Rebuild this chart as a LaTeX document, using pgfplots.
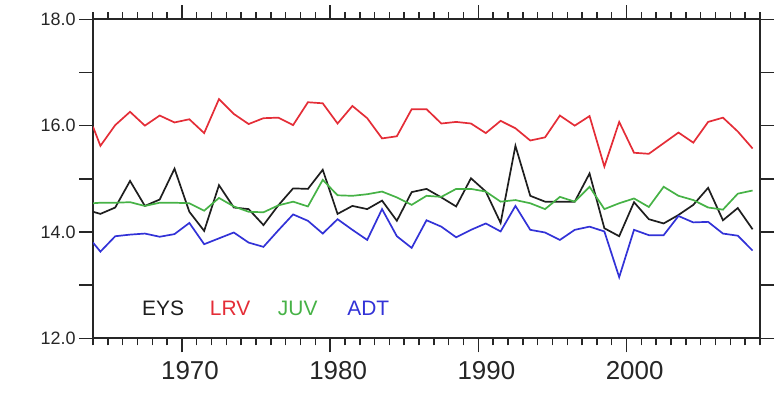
\documentclass[border=0pt]{standalone}
\usepackage{fontspec}
\setmainfont{Liberation Sans}
\usepackage{pgfplots}
\usepackage{pgfplotstable}
\pgfplotsset{compat=1.18}

\definecolor{eys}{RGB}{30,30,30}
\definecolor{lrv}{RGB}{228,45,55}
\definecolor{juv}{RGB}{70,178,70}
\definecolor{adt}{RGB}{50,50,215}

% annual means, plotted at mid-year
\pgfplotstableread{
year   EYS    LRV    JUV    ADT
1964.0 14.38  15.98  14.54  13.80
1964.5 14.34  15.62  14.55  13.63
1965.5 14.46  16.01  14.55  13.92
1966.5 14.96  16.26  14.56  13.95
1967.5 14.49  16.00  14.49  13.97
1968.5 14.61  16.19  14.55  13.91
1969.5 15.19  16.06  14.55  13.96
1970.5 14.38  16.12  14.54  14.17
1971.5 14.02  15.86  14.40  13.77
1972.5 14.88  16.50  14.64  13.88
1973.5 14.46  16.22  14.48  13.99
1974.5 14.43  16.03  14.38  13.80
1975.5 14.13  16.14  14.37  13.72
1976.5 14.50  16.15  14.50  14.03
1977.5 14.82  16.01  14.57  14.33
1978.5 14.81  16.44  14.48  14.21
1979.5 15.17  16.42  14.98  13.97
1980.5 14.34  16.04  14.69  14.24
1981.5 14.49  16.37  14.68  14.04
1982.5 14.43  16.14  14.71  13.85
1983.5 14.59  15.76  14.76  14.43
1984.5 14.21  15.80  14.65  13.92
1985.5 14.75  16.31  14.51  13.70
1986.5 14.81  16.31  14.68  14.22
1987.5 14.65  16.04  14.66  14.10
1988.5 14.48  16.07  14.81  13.90
1989.5 15.01  16.04  14.81  14.04
1990.5 14.76  15.86  14.76  14.16
1991.5 14.17  16.09  14.57  14.01
1992.5 15.62  15.95  14.60  14.49
1993.5 14.68  15.72  14.54  14.04
1994.5 14.57  15.78  14.43  13.99
1995.5 14.57  16.19  14.66  13.85
1996.5 14.57  16.00  14.57  14.04
1997.5 15.10  16.18  14.85  14.10
1998.5 14.07  15.23  14.43  14.01
1999.5 13.92  16.07  14.54  13.15
2000.5 14.56  15.49  14.63  14.04
2001.5 14.24  15.47  14.47  13.94
2002.5 14.16  15.67  14.85  13.94
2003.5 14.32  15.87  14.68  14.30
2004.5 14.51  15.68  14.60  14.18
2005.5 14.83  16.07  14.46  14.19
2006.5 14.22  16.15  14.42  13.97
2007.5 14.45  15.89  14.72  13.93
2008.5 14.05  15.57  14.78  13.65
}\series

\begin{document}
\begin{tikzpicture}
\useasboundingbox (0,0) rectangle (781bp,393bp);
\begin{axis}[
  at={(93bp,54.7bp)}, anchor=south west,
  width=667bp, height=319bp, scale only axis,
  xmin=1964, xmax=2009, ymin=12, ymax=18,
  xtick={1970,1980,1990,2000},
  xticklabels={1970,1980,1990,2000},
  minor xtick={1964,...,2009},
  ytick={12,13,...,18},
  yticklabels={12.0,,14.0,,16.0,,18.0},
  tick align=outside,
  major tick length=14bp, minor tick length=7bp,
  axis line style={line width=2bp, black!85},
  tick style={line width=1.5bp, black!85},
  x tick label style={font=\fontsize{26}{26}\selectfont, text=black!85, xshift=8bp, yshift=-6bp},
  y tick label style={font=\fontsize{18}{18}\selectfont, text=black!85},
  every axis plot/.append style={line width=1.7bp, no markers, sharp plot},
]
\addplot[eys] table[x=year, y=EYS] {\series};
\addplot[lrv] table[x=year, y=LRV] {\series};
\addplot[juv] table[x=year, y=JUV] {\series};
\addplot[adt] table[x=year, y=ADT] {\series};

\begin{scope}[every node/.style={anchor=base west, inner sep=0pt, font=\fontsize{21}{21}\selectfont}]
\node[text=eys] at (rel axis cs:0.0735,0.070) {EYS};
\node[text=lrv] at (rel axis cs:0.175,0.070) {LRV};
\node[text=juv] at (rel axis cs:0.277,0.070) {JUV};
\node[text=adt] at (rel axis cs:0.381,0.070) {ADT};
\end{scope}
\end{axis}
\end{tikzpicture}
\end{document}
